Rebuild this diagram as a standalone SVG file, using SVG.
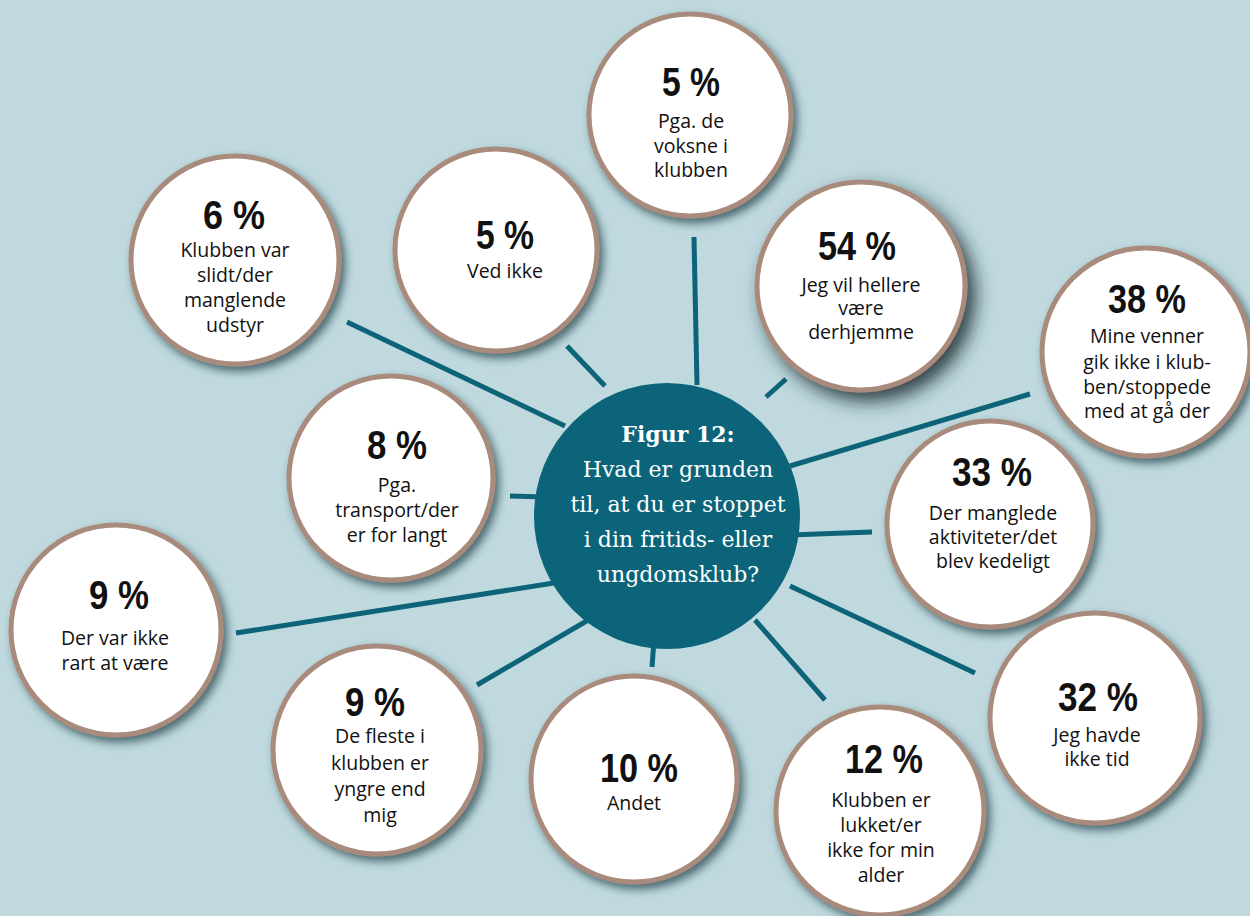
<svg xmlns="http://www.w3.org/2000/svg" width="1250" height="916" viewBox="0 0 1250 916">
<style>
.bg{fill:#bfd9de}
.conn line{stroke:#0d6479;stroke-width:5;stroke-linecap:butt}
.node circle{fill:#ffffff;stroke:#a88b7b;stroke-width:5;filter:url(#sh)}
.pct{font-family:"Liberation Sans",sans-serif;font-weight:bold;font-size:41px;fill:#111;text-anchor:middle}
.lbl{font-family:"Open Sans","Noto Sans",sans-serif;font-size:19.5px;fill:#111;text-anchor:middle}
.ctr{font-family:"DejaVu Serif","Liberation Serif",serif;font-size:22px;fill:#ffffff;text-anchor:middle}
</style>
<defs>
<filter id="sh" x="-20%" y="-20%" width="150%" height="150%">
<feDropShadow dx="4" dy="5" stdDeviation="4" flood-color="#1b3b42" flood-opacity="0.7"/>
</filter>
<filter id="sh2" x="-30%" y="-30%" width="170%" height="170%">
<feDropShadow dx="8" dy="9" stdDeviation="9" flood-color="#14292e" flood-opacity="0.85"/>
</filter>
</defs>
<rect class="bg" x="0" y="0" width="1250" height="916"/>
<g id="connectors" class="conn">
<line x1="347" y1="322" x2="565" y2="426"/>
<line x1="567" y1="346" x2="605" y2="386"/>
<line x1="694" y1="237" x2="697" y2="385"/>
<line x1="766" y1="397" x2="786" y2="379"/>
<line x1="790" y1="466" x2="1030" y2="394"/>
<line x1="790" y1="535" x2="872" y2="532"/>
<line x1="790" y1="586" x2="975" y2="673"/>
<line x1="755" y1="620" x2="825" y2="700"/>
<line x1="654" y1="640" x2="652" y2="667"/>
<line x1="590" y1="619" x2="477" y2="685"/>
<line x1="560" y1="582" x2="236" y2="633"/>
<line x1="510" y1="496" x2="545" y2="497"/>
</g>
<g id="center">
<circle cx="667" cy="516" r="133" fill="#0b6479"/>
<text class="ctr" x="678" y="442" font-weight="bold">Figur 12:</text>
<text class="ctr" x="678" y="477">Hvad er grunden</text>
<text class="ctr" x="678" y="512">til, at du er stoppet</text>
<text class="ctr" x="678" y="547">i din fritids- eller</text>
<text class="ctr" x="678" y="582">ungdomsklub?</text>
</g>
<g id="n-voksne" class="node">
<circle cx="690" cy="115" r="101"/>
<text class="pct" x="691" y="96" textLength="58" lengthAdjust="spacingAndGlyphs">5 %</text>
<text class="lbl" x="691" y="128">Pga. de</text>
<text class="lbl" x="691" y="153">voksne i</text>
<text class="lbl" x="691" y="177">klubben</text>
</g>
<g id="n-vedikke" class="node">
<circle cx="496" cy="250" r="101"/>
<text class="pct" x="505" y="249" textLength="58" lengthAdjust="spacingAndGlyphs">5 %</text>
<text class="lbl" x="505" y="278">Ved ikke</text>
</g>
<g id="n-slidt" class="node">
<circle cx="235" cy="260" r="104"/>
<text class="pct" x="234" y="229" textLength="62" lengthAdjust="spacingAndGlyphs">6 %</text>
<text class="lbl" x="235" y="257">Klubben var</text>
<text class="lbl" x="235" y="282">slidt/der</text>
<text class="lbl" x="235" y="307">manglende</text>
<text class="lbl" x="235" y="332">udstyr</text>
</g>
<g id="n-derhjemme" class="node">
<circle cx="861" cy="286" r="104" style="filter:url(#sh2)"/>
<text class="pct" x="857" y="260" textLength="78" lengthAdjust="spacingAndGlyphs">54 %</text>
<text class="lbl" x="861" y="292">Jeg vil hellere</text>
<text class="lbl" x="861" y="315">være</text>
<text class="lbl" x="861" y="339">derhjemme</text>
</g>
<g id="n-venner" class="node">
<circle cx="1146" cy="352" r="104"/>
<text class="pct" x="1147" y="313" textLength="78" lengthAdjust="spacingAndGlyphs">38 %</text>
<text class="lbl" x="1147" y="343">Mine venner</text>
<text class="lbl" x="1147" y="369">gik ikke i klub-</text>
<text class="lbl" x="1147" y="394">ben/stoppede</text>
<text class="lbl" x="1147" y="418">med at gå der</text>
</g>
<g id="n-kedeligt" class="node">
<circle cx="990" cy="524" r="103"/>
<text class="pct" x="992" y="486" textLength="80" lengthAdjust="spacingAndGlyphs">33 %</text>
<text class="lbl" x="993" y="520">Der manglede</text>
<text class="lbl" x="993" y="544">aktiviteter/det</text>
<text class="lbl" x="993" y="568">blev kedeligt</text>
</g>
<g id="n-tid" class="node">
<circle cx="1095" cy="718" r="105"/>
<text class="pct" x="1098" y="711" textLength="80" lengthAdjust="spacingAndGlyphs">32 %</text>
<text class="lbl" x="1097" y="742">Jeg havde</text>
<text class="lbl" x="1097" y="766">ikke tid</text>
</g>
<g id="n-lukket" class="node">
<circle cx="880" cy="811" r="104"/>
<text class="pct" x="884" y="773" textLength="78" lengthAdjust="spacingAndGlyphs">12 %</text>
<text class="lbl" x="881" y="807">Klubben er</text>
<text class="lbl" x="881" y="832">lukket/er</text>
<text class="lbl" x="881" y="857">ikke for min</text>
<text class="lbl" x="881" y="882">alder</text>
</g>
<g id="n-andet" class="node">
<circle cx="634" cy="779" r="103"/>
<text class="pct" x="639" y="782" textLength="78" lengthAdjust="spacingAndGlyphs">10 %</text>
<text class="lbl" x="634" y="810">Andet</text>
</g>
<g id="n-yngre" class="node">
<circle cx="377" cy="750" r="104"/>
<text class="pct" x="375" y="716" textLength="60" lengthAdjust="spacingAndGlyphs">9 %</text>
<text class="lbl" x="380" y="743">De fleste i</text>
<text class="lbl" x="380" y="770">klubben er</text>
<text class="lbl" x="380" y="796">yngre end</text>
<text class="lbl" x="380" y="822">mig</text>
</g>
<g id="n-rart" class="node">
<circle cx="116" cy="630" r="105"/>
<text class="pct" x="119" y="609" textLength="60" lengthAdjust="spacingAndGlyphs">9 %</text>
<text class="lbl" x="115" y="645">Der var ikke</text>
<text class="lbl" x="115" y="670">rart at være</text>
</g>
<g id="n-transport" class="node">
<circle cx="391" cy="478" r="102"/>
<text class="pct" x="397" y="459" textLength="60" lengthAdjust="spacingAndGlyphs">8 %</text>
<text class="lbl" x="397" y="492">Pga.</text>
<text class="lbl" x="397" y="517">transport/der</text>
<text class="lbl" x="397" y="542">er for langt</text>
</g>
</svg>
